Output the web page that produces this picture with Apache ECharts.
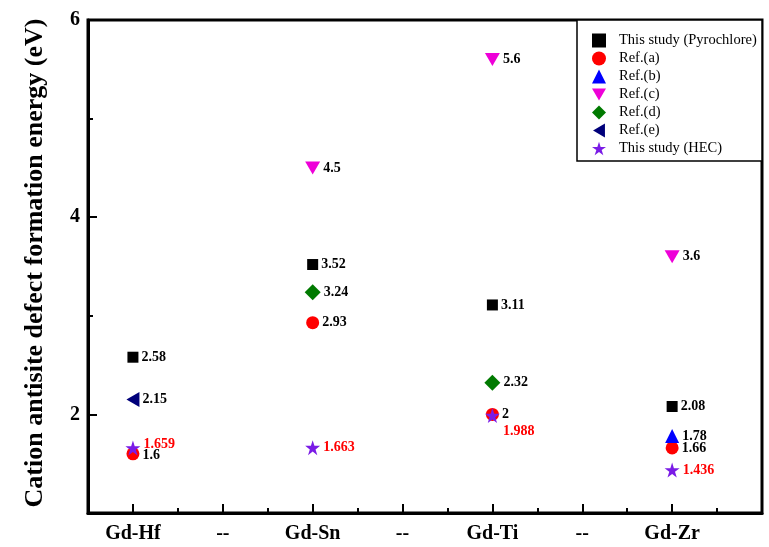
<!DOCTYPE html>
<html>
<head>
<meta charset="utf-8">
<script src="https://cdn.jsdelivr.net/npm/echarts@6/dist/echarts.min.js"></script>
<style>
  html, body { margin: 0; padding: 0; background: #ffffff; }
  #chart { width: 769px; height: 547px; }
</style>
</head>
<body>
<div id="chart"></div>
<script>
// Cation antisite defect formation energies (eV) per cation pair
const categories = ['Gd-Hf', '--', 'Gd-Sn', '--', 'Gd-Ti', '--', 'Gd-Zr'];
const yTicks = [2, 4, 6];

const pyrochlore = [2.58, null, 3.52, null, 3.11, null, 2.08];
const refA       = [1.6,  null, 2.93, null, 2,    null, 1.66];
const refB       = [null, null, null, null, null, null, 1.78];
const refC       = [null, null, 4.5,  null, 5.6,  null, 3.6];
const refD       = [null, null, 3.24, null, 2.32, null, null];
const refE       = [2.15, null, null, null, null, null, null];
const hec        = [1.659, null, 1.663, null, 1.988, null, 1.436];

const SERIF = "'Liberation Serif', 'Times New Roman', 'DejaVu Serif', serif";

const STAR = 'path://M10,0L12.245,6.91L19.511,6.91L13.633,11.18L15.878,18.09L10,13.82L4.122,18.09L6.367,11.18L0.489,6.91L7.755,6.91Z';
const TRI_DOWN = 'path://M0,0L20,0L10,17Z';
const TRI_LEFT = 'path://M17,0L17,20L0,10Z';

function points(values) {
  const out = [];
  values.forEach(function (v, i) {
    if (v !== null) out.push([i + 1, v]);
  });
  return out;
}

function makeSeries(name, values, symbol, size, color, labelColor, tweak) {
  const data = points(values).map(function (p) {
    const item = { value: p };
    if (tweak) {
      const t = tweak(categories[p[0] - 1]);
      if (t) item.label = t;
    }
    return item;
  });
  return {
    name: name,
    type: 'scatter',
    symbol: symbol,
    symbolSize: size,
    itemStyle: { color: color, opacity: 1 },
    data: data,
    label: {
      show: true,
      position: 'right',
      distance: 3,
      formatter: function (p) { return String(p.value[1]); },
      fontFamily: SERIF,
      fontWeight: 'bold',
      fontSize: 14,
      color: labelColor
    },
    emphasis: { disabled: true }
  };
}

const series = [
  makeSeries('This study (Pyrochlore)', pyrochlore, 'rect', 11, '#000000', '#000000'),
  makeSeries('Ref.(a)', refA, 'circle', 13, '#ff0000', '#000000', function (cat) {
    return cat === 'Gd-Hf' ? { offset: [0, 2] } : null;
  }),
  makeSeries('Ref.(b)', refB, 'triangle', 14, '#0000ff', '#000000'),
  makeSeries('Ref.(c)', refC, TRI_DOWN, [15, 13], '#ee00d8', '#000000'),
  makeSeries('Ref.(d)', refD, 'diamond', [16, 16], '#007a00', '#000000'),
  makeSeries('Ref.(e)', refE, TRI_LEFT, [13, 15], '#00007a', '#000000'),
  makeSeries('This study (HEC)', hec, STAR, 15, '#7a1be6', '#ff0000', function (cat) {
    // nudge labels that would collide with the Ref.(a) values next to them
    if (cat === 'Gd-Ti') return { offset: [0, 16] };
    if (cat === 'Gd-Hf') return { offset: [0, -4] };
    return null;
  })
];

const chart = echarts.init(document.getElementById('chart'), null, { renderer: 'canvas' });

const axisFont = { fontFamily: SERIF, fontWeight: 'bold', fontSize: 20, color: '#000000' };

chart.setOption({
  animation: false,
  backgroundColor: '#ffffff',
  grid: {
    left: 88, right: 7, top: 20, bottom: 34,
    show: true, borderColor: '#000000', borderWidth: 3, backgroundColor: 'transparent'
  },
  xAxis: [
    {
      type: 'value', min: 0.5, max: 8,
      axisLine: { show: true, lineStyle: { color: '#000000', width: 3 } },
      axisTick: { show: true, inside: true, length: 9, customValues: [1, 2, 3, 4, 5, 6, 7], lineStyle: { color: '#000', width: 2 } },
      axisLabel: {
        customValues: [1, 2, 3, 4, 5, 6, 7],
        formatter: function (v) { return categories[Math.round(v) - 1] || ''; },
        margin: 11,
        ...axisFont
      },
      splitLine: { show: false }
    },
    {
      type: 'value', min: 0.5, max: 8, position: 'bottom', offset: 0,
      axisLine: { show: false },
      axisTick: { show: true, inside: true, length: 5, customValues: [1.5, 2.5, 3.5, 4.5, 5.5, 6.5, 7.5], lineStyle: { color: '#000', width: 2 } },
      axisLabel: { show: false },
      splitLine: { show: false }
    }
  ],
  yAxis: [
    {
      type: 'value', min: 1, max: 6,
      axisLine: { show: true, lineStyle: { color: '#000000', width: 3 } },
      axisTick: { show: true, inside: true, length: 9, customValues: yTicks, lineStyle: { color: '#000', width: 2 } },
      axisLabel: { customValues: yTicks, margin: 8, ...axisFont },
      splitLine: { show: false }
    },
    {
      type: 'value', min: 1, max: 6, position: 'left', offset: 0,
      axisLine: { show: false },
      axisTick: { show: true, inside: true, length: 5, customValues: [3, 5], lineStyle: { color: '#000', width: 2 } },
      axisLabel: { show: false },
      splitLine: { show: false }
    }
  ],
  legend: {
    orient: 'vertical',
    left: 592,
    top: 33,
    padding: 0,
    itemGap: 3,
    itemWidth: 14,
    itemHeight: 14,
    selectedMode: false,
    textStyle: { fontFamily: SERIF, fontSize: 14.5, color: '#000000', padding: [0, 0, 0, 8] },
    data: series.map(function (s) { return s.name; })
  },
  graphic: [
    {
      type: 'rect',
      z: 0,
      shape: { x: 577, y: 20, width: 185, height: 141 },
      style: { fill: '#ffffff', stroke: '#000000', lineWidth: 1.5 }
    },
    {
      type: 'text',
      x: 35, y: 263,
      rotation: Math.PI / 2,
      style: {
        text: 'Cation antisite defect formation energy (eV)',
        font: "bold 26px 'Liberation Serif', 'Times New Roman', serif",
        fill: '#000000',
        textAlign: 'center',
        textVerticalAlign: 'middle'
      }
    }
  ],
  series: series
});
</script>
</body>
</html>
